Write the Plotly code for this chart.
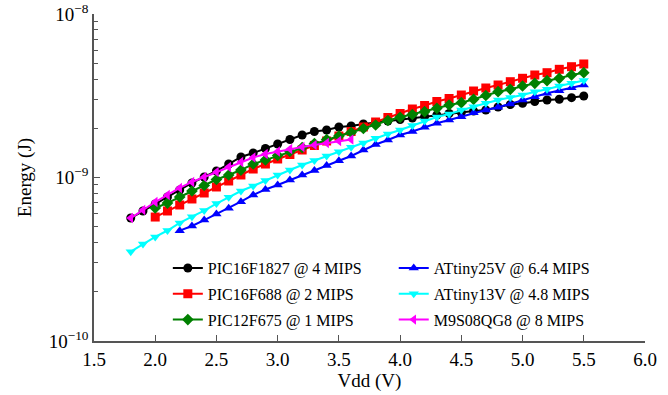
import plotly.graph_objects as go

# Supply voltage (V)
vdd_18 = [1.8, 1.9, 2.0, 2.1, 2.2, 2.3, 2.4, 2.5, 2.6, 2.7, 2.8, 2.9, 3.0, 3.1, 3.2, 3.3, 3.4, 3.5,
          3.6, 3.7, 3.8, 3.9, 4.0, 4.1, 4.2, 4.3, 4.4, 4.5, 4.6, 4.7, 4.8, 4.9, 5.0, 5.1, 5.2, 5.3, 5.4, 5.5]
vdd_20 = vdd_18[2:]
vdd_22 = vdd_18[4:]
vdd_m = vdd_18[:19]

# Energy (nJ)
pic16f1827 = [0.565, 0.624, 0.689, 0.760, 0.839, 0.926, 1.007, 1.096, 1.209, 1.335, 1.412, 1.504, 1.603,
              1.708, 1.820, 1.911, 1.952, 2.037, 2.065, 2.125, 2.169, 2.216, 2.264, 2.311, 2.360, 2.411,
              2.462, 2.497, 2.550, 2.587, 2.699, 2.795, 2.843, 2.916, 2.979, 3.008, 3.077, 3.151]
pic16f688 = [0.573, 0.624, 0.679, 0.739, 0.804, 0.875, 0.952, 1.036, 1.127, 1.209, 1.298, 1.382, 1.473,
             1.569, 1.672, 1.794, 1.911, 2.037, 2.185, 2.328, 2.463, 2.624, 2.757, 2.916, 3.043, 3.195,
             3.381, 3.527, 3.679, 3.854, 4.044, 4.236, 4.375, 4.589, 4.760, 4.946]
pic12f675 = [0.651, 0.698, 0.760, 0.827, 0.894, 0.972, 1.036, 1.111, 1.209, 1.280, 1.363, 1.442, 1.525,
             1.614, 1.708, 1.794, 1.885, 1.994, 2.095, 2.232, 2.334, 2.428, 2.526, 2.650, 2.776, 2.868,
             3.008, 3.174, 3.348, 3.463, 3.627, 3.768, 3.908, 4.044, 4.236, 4.375]
attiny25v = [0.473, 0.505, 0.549, 0.598, 0.648, 0.711, 0.782, 0.845, 0.900, 0.965, 1.036, 1.104, 1.184,
             1.267, 1.353, 1.473, 1.591, 1.696, 1.820, 1.911, 2.028, 2.146, 2.248, 2.354, 2.491, 2.587,
             2.688, 2.816, 2.979, 3.120, 3.273, 3.395, 3.542, 3.679]
attiny13v = [0.352, 0.392, 0.433, 0.474, 0.527, 0.576, 0.628, 0.693, 0.757, 0.827, 0.887, 0.959, 1.036,
             1.111, 1.192, 1.270, 1.353, 1.438, 1.530, 1.626, 1.737, 1.845, 1.952, 2.080, 2.216, 2.344,
             2.445, 2.587, 2.710, 2.843, 2.979, 3.085, 3.195, 3.348, 3.463, 3.627, 3.768, 3.919]
m9s08qg8 = [0.565, 0.633, 0.708, 0.782, 0.863, 0.939, 1.007, 1.081, 1.159, 1.244, 1.325, 1.392, 1.442,
            1.494, 1.537, 1.580, 1.626, 1.672, 1.708]

names = ["PIC16F1827 @ 4 MIPS", "PIC16F688 @ 2 MIPS", "PIC12F675 @ 1 MIPS",
         "ATtiny25V @ 6.4 MIPS", "ATtiny13V @ 4.8 MIPS", "M9S08QG8 @ 8 MIPS"]

x_ticks = [1.5, 2.0, 2.5, 3.0, 3.5, 4.0, 4.5, 5.0, 5.5, 6.0]
y_major = [1e-10, 1e-9, 1e-8]
y_major_text = ["10<sup>\u221210</sup>", "10<sup>\u22129</sup>", "10<sup>\u22128</sup>"]

series = [
    (names[0], vdd_18, pic16f1827, "black", "circle", "legend"),
    (names[1], vdd_20, pic16f688, "#ff0000", "square", "legend"),
    (names[2], vdd_20, pic12f675, "#008000", "diamond", "legend"),
    (names[3], vdd_22, attiny25v, "#0000ff", "triangle-up", "legend2"),
    (names[4], vdd_18, attiny13v, "#00ffff", "triangle-down", "legend2"),
    (names[5], vdd_m, m9s08qg8, "#ff00ff", "triangle-left", "legend2"),
]

fig = go.Figure()
for i, (name, xs, ys, color, sym, lg) in enumerate(series):
    fig.add_trace(go.Scatter(
        x=xs, y=[v * 1e-9 for v in ys], name=name, mode="lines+markers",
        line=dict(color=color, width=2),
        marker=dict(color=color, symbol=sym, size=9),
        legend=lg, legendgroup=f"g{i}",
    ))

font_family = "'Liberation Serif', 'DejaVu Serif', serif"
minor_vals = [m * 10.0 ** e for e in (-10, -9) for m in range(2, 10)]
leg_font = dict(size=16, family=font_family, color="black")

fig.update_layout(
    width=668, height=395,
    margin=dict(l=94, r=23, t=14, b=54, autoexpand=False),
    paper_bgcolor="white", plot_bgcolor="white",
    font=dict(family=font_family, size=19, color="black"),
    showlegend=True,
    legend=dict(x=0.134, y=0.275, xanchor="left", yanchor="top",
                bgcolor="rgba(0,0,0,0)", font=leg_font,
                tracegroupgap=2, itemwidth=30),
    legend2=dict(x=0.544, y=0.275, xanchor="left", yanchor="top",
                 bgcolor="rgba(0,0,0,0)", font=leg_font,
                 tracegroupgap=2, itemwidth=30),
    xaxis=dict(range=[1.5, 6.0], tickvals=x_ticks, ticktext=[f"{v:.1f}" for v in x_ticks],
               ticks="inside", ticklen=6, tickcolor="#555555", showline=True, linecolor="#555555",
               linewidth=1.5, showgrid=False, zeroline=False, mirror=False, automargin=False,
               ticklabeloverflow="allow",
               tickfont=dict(family=font_family, size=19, color="black"),
               title=dict(text="Vdd (V)", font=dict(size=19, family=font_family), standoff=4)),
    yaxis=dict(type="log", range=[-10, -8], tickvals=y_major, ticktext=y_major_text,
               ticks="inside", ticklen=6, tickcolor="#555555", showline=True, linecolor="#555555",
               linewidth=1.5, showgrid=False, zeroline=False, mirror=False, automargin=False,
               ticklabeloverflow="allow",
               tickfont=dict(family=font_family, size=19, color="black"),
               minor=dict(tickvals=minor_vals, ticks="inside", ticklen=4, tickcolor="#555555", showgrid=False),
               title=dict(text="Energy (J)", font=dict(size=19, family=font_family), standoff=12)),
)

fig.write_html("out.html", config={"displayModeBar": False},
               post_script="document.body.style.margin='0';")
